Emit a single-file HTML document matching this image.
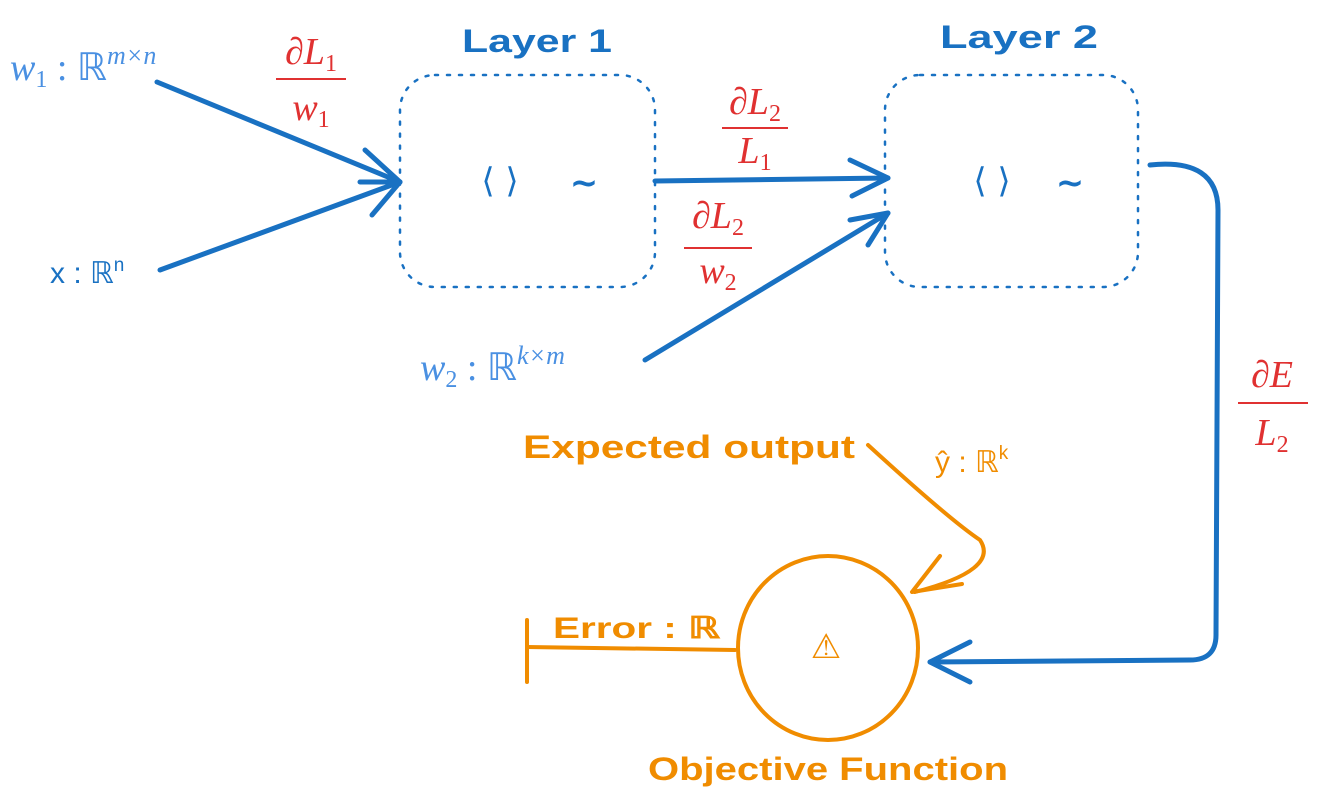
<!DOCTYPE html>
<html><head><meta charset="utf-8"><style>
html,body{margin:0;padding:0;background:#fff;width:1328px;height:810px;overflow:hidden}
svg{display:block}
.hand{font-family:"Comic Sans MS","Liberation Sans",sans-serif}
.m{font-family:"Liberation Serif",serif;font-style:italic}
</style></head><body>
<svg width="1328" height="810" viewBox="0 0 1328 810" xmlns="http://www.w3.org/2000/svg">
<g fill="none" stroke="#1971c2" stroke-width="2.5" stroke-dasharray="3 9" stroke-linecap="round">
<rect x="400" y="75" width="255" height="212" rx="35"/>
<rect x="885" y="75" width="253" height="212" rx="35"/>
</g>
<g fill="none" stroke="#1971c2" stroke-width="5" stroke-linecap="round" stroke-linejoin="round">
<path d="M157 82 L400 182"/>
<path d="M160 270 L400 182"/>
<path d="M365 150 L400 182 L360 182 M400 182 L372 215"/>
<path d="M655 181 L888 178"/>
<path d="M850 160 L888 178 L852 196"/>
<path d="M645 360 L888 213"/>
<path d="M850 220 L888 213 L868 245"/>
<path d="M1150 165 Q1218 158 1218 210 L1216 635 Q1216 660 1190 660 L930 662"/>
<path d="M970 642 L930 662 L970 682"/>
</g>
<g class="hand" fill="#1971c2" font-size="32" font-weight="bold">
<text x="462" y="52" textLength="150" lengthAdjust="spacingAndGlyphs">Layer 1</text>
<text x="940" y="48" textLength="158" lengthAdjust="spacingAndGlyphs">Layer 2</text>
</g>
<g fill="#1971c2" font-family="DejaVu Sans,sans-serif" font-size="34" text-anchor="middle">
<text x="500" y="192">⟨ ⟩</text><text x="584" y="194" font-weight="bold">~</text>
<text x="992" y="192">⟨ ⟩</text><text x="1070" y="194" font-weight="bold">~</text>
</g>
<text x="10" y="80" fill="#4a90e2" font-size="38" class="m">w<tspan font-size="24" dy="7" font-style="normal">1</tspan><tspan dy="-7" font-style="normal"> : ℝ</tspan><tspan font-size="26" dy="-16">m×n</tspan></text>
<text x="420" y="380" fill="#4a90e2" font-size="38" class="m">w<tspan font-size="24" dy="7" font-style="normal">2</tspan><tspan dy="-7" font-style="normal"> : ℝ</tspan><tspan font-size="26" dy="-16">k×m</tspan></text>
<text x="50" y="283" fill="#1971c2" font-size="30" font-family="Liberation Sans,sans-serif">x : ℝ<tspan font-size="19" dy="-12">n</tspan></text>
<g fill="#e03131" class="m" font-size="38" text-anchor="middle">
<text x="311" y="64">∂L<tspan font-size="24" dy="7" font-style="normal">1</tspan></text>
<text x="311" y="120">w<tspan font-size="24" dy="7" font-style="normal">1</tspan></text>
<text x="755" y="114">∂L<tspan font-size="24" dy="7" font-style="normal">2</tspan></text>
<text x="755" y="163">L<tspan font-size="24" dy="7" font-style="normal">1</tspan></text>
<text x="718" y="228">∂L<tspan font-size="24" dy="7" font-style="normal">2</tspan></text>
<text x="718" y="283">w<tspan font-size="24" dy="7" font-style="normal">2</tspan></text>
<text x="1272" y="387">∂E</text>
<text x="1272" y="445">L<tspan font-size="24" dy="7" font-style="normal">2</tspan></text>
</g>
<g stroke="#e03131" stroke-width="2">
<line x1="276" y1="79" x2="346" y2="79"/>
<line x1="722" y1="128" x2="788" y2="128"/>
<line x1="684" y1="248" x2="752" y2="248"/>
<line x1="1238" y1="403" x2="1308" y2="403"/>
</g>
<g fill="none" stroke="#f08c00" stroke-width="4" stroke-linecap="round" stroke-linejoin="round">
<ellipse cx="828" cy="648" rx="90" ry="92"/>
<path d="M868 445 Q950 520 980 540 Q1000 570 915 592"/>
<path d="M940 556 L912 592 L962 584"/>
<path d="M527 647 L735 650"/>
<path d="M527 620 L527 682"/>
</g>
<g class="hand" fill="#f08c00" font-weight="bold">
<text x="523" y="458" font-size="32" textLength="332" lengthAdjust="spacingAndGlyphs">Expected output</text>
<text x="553" y="638" font-size="30" textLength="167" lengthAdjust="spacingAndGlyphs">Error : ℝ</text>
<text x="648" y="780" font-size="32" textLength="360" lengthAdjust="spacingAndGlyphs">Objective Function</text>
</g>
<text x="935" y="472" fill="#f08c00" font-size="30" font-family="Liberation Sans,sans-serif">ŷ : ℝ<tspan font-size="19" dy="-13">k</tspan></text>
<text x="826" y="658" fill="#f08c00" font-size="34" text-anchor="middle" font-family="DejaVu Sans,sans-serif">⚠</text>
</svg>
</body></html>
